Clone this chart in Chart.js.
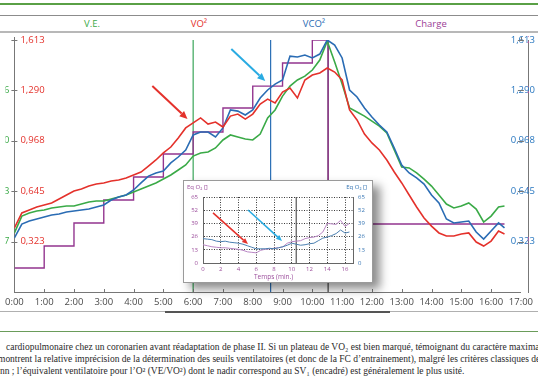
<!DOCTYPE html>
<html><head><meta charset="utf-8">
<script src="https://cdn.jsdelivr.net/npm/chart.js@4.4.1/dist/chart.umd.min.js"></script>
<style>
html,body{margin:0;padding:0;background:#fff;}
body{width:538px;height:384px;overflow:hidden;position:relative;font-family:"Open Sans",sans-serif;}
.rule{position:absolute;left:0;width:538px;}
.hdr{position:absolute;top:17px;line-height:14px;font-size:9.5px;transform:translateX(-50%);white-space:nowrap;}
#main{position:absolute;left:0;top:0;z-index:1;}
#insetBox{position:absolute;left:183px;top:180px;width:188px;height:101px;background:#fff;border:1px solid #9a9a9a;box-shadow:7px 6px 9px rgba(0,0,0,0.45);z-index:2;}
#inset{position:absolute;left:0;top:0;}
.itxt{position:absolute;font-size:6px;line-height:8px;white-space:nowrap;}
.cap{position:absolute;white-space:nowrap;font-family:"Liberation Serif",serif;color:#2a2a2a;line-height:12px;font-size:9px;}
</style></head><body>

<div class="rule" style="top:3px;height:1.5px;background:#5aa046;"></div>
<div class="rule" style="top:15px;height:1px;background:#8c8c8c;"></div>
<div class="rule" style="top:31px;height:1.5px;background:#b8b8b8;"></div>
<div class="hdr" style="left:92px;color:#3aaa47;">V.E.</div>
<div class="hdr" style="left:199px;color:#e4312b;">VO²</div>
<div class="hdr" style="left:314px;color:#2a6cb4;">VCO²</div>
<div class="hdr" style="left:431px;color:#9b3d96;">Charge</div>

<canvas id="main" width="538" height="384"></canvas>

<div id="insetBox">
  <canvas id="inset" width="188" height="101"></canvas>
  <div class="itxt" style="left:3px;top:2px;color:#9b4d9b;">Eq O₂ []</div>
  <div class="itxt" style="right:5px;top:2px;color:#3a78b5;">Eq O₂ []</div>
  <div class="itxt" style="left:70px;top:92px;color:#9b4d9b;font-size:6.5px;">Temps (min.)</div>
</div>

<div class="rule" style="top:311px;height:1px;background:#b0b0b0;"></div>
<div class="rule" style="top:311px;left:165px;width:225px;height:1.5px;background:#555;"></div>
<div class="rule" style="top:331px;height:1px;background:#6a9c5a;"></div>

<div class="cap" id="cap1" style="left:6px;top:341px;"><span id="cap1a">cardiopulmonaire chez un coronarien avant réadaptation de phase II. Si un plateau de VO₂ est bien marqué, témoignant du caractère </span>maximal</div>
<div class="cap" id="cap2" style="left:-2px;top:353px;"><span id="cap2a">montrent la relative imprécision de la détermination des seuils ventilatoires (et donc de la FC d’entrainement), malgré les critères classiques </span>de</div>
<div class="cap" id="cap3" style="left:0px;top:365px;"><span id="cap3a">nn ; l’équivalent ventilatoire pour l’O² (VE/VO²) dont le nadir correspond au SV₁ (encadré) est généralement le plus usité.</span></div>

<script>
// ---------- DATA (main chart) ----------
const times = [0,0.25,0.5,0.75,1,1.25,1.5,1.75,2,2.25,2.5,2.75,3,3.25,3.5,3.75,4,4.25,4.5,4.75,5,5.25,5.5,5.75,6,6.25,6.5,6.75,7,7.25,7.5,7.75,8,8.25,8.5,8.75,9,9.25,9.5,9.75,10,10.25,10.5,10.75,11,11.25,11.5,11.75,12,12.25,12.5,12.75,13,13.25,13.5,13.75,14,14.25,14.5,14.75,15,15.25,15.5,15.75,16,16.25,16.45];
const vo2 = [0.410,0.506,0.525,0.544,0.557,0.570,0.595,0.621,
  0.646,0.659,0.678,0.691,0.698,0.710,0.717,0.730,
  0.749,0.768,0.806,0.845,0.890,0.928,0.986,1.050,
  1.082,1.114,1.075,1.088,1.056,1.126,1.139,1.107,
  1.139,1.203,1.235,1.210,1.280,1.306,1.242,1.357,
  1.389,1.402,1.434,1.408,1.357,1.165,1.101,1.011,
  0.954,0.909,0.845,0.768,0.698,0.621,0.544,0.474,
  0.422,0.378,0.358,0.358,0.371,0.378,0.320,0.294,
  0.326,0.390,0.371];
const vco2 = [0.346,0.435,0.454,0.467,0.480,0.493,0.499,0.512,
  0.518,0.525,0.531,0.544,0.557,0.589,0.608,0.621,
  0.653,0.698,0.742,0.762,0.774,0.826,0.864,0.909,
  1.005,1.024,1.024,0.992,1.050,1.165,1.158,1.133,
  1.165,1.242,1.293,1.331,1.357,1.510,1.504,1.517,
  1.498,1.523,1.613,1.581,1.498,1.293,1.248,1.178,
  1.120,1.069,1.024,0.922,0.813,0.762,0.730,0.691,
  0.621,0.570,0.467,0.442,0.448,0.454,0.384,0.339,
  0.390,0.442,0.410];
const ve = [0.378,0.486,0.506,0.518,0.525,0.538,0.544,0.550,
  0.550,0.563,0.576,0.582,0.582,0.595,0.608,0.621,
  0.640,0.659,0.678,0.698,0.723,0.749,0.781,0.813,
  0.870,0.890,0.896,0.922,0.973,1.005,0.992,0.979,
  0.973,1.011,1.114,1.165,1.254,1.318,1.357,1.382,
  1.421,1.485,1.606,1.472,1.331,1.178,1.152,1.126,
  1.094,1.062,1.018,0.909,0.800,0.794,0.762,0.723,
  0.678,0.621,0.563,0.538,0.550,0.570,0.531,0.448,
  0.486,0.544,0.550];
const chargeTimes = [0,1,2,3,4,5,6,7,8,9,10,10.53,16.45];
const chargeValues = [0.154,0.294,0.442,0.589,0.736,0.883,1.024,1.178,1.318,1.466,1.613,0.435,0.435];
const thresholdVE = 6.0, thresholdVCO2 = 8.6, peakTime = 10.53;
const yTicks = [0.323,0.645,0.968,1.290,1.613];
const yTickLabels = ['0,323','0,645','0,968','1,290','1,613'];
const veTicks = [0.323,0.645,0.968,1.290];
const veTickLabels = ['25,7','51,3','77,0','102,6'];
const chargeTicks = [0.323,0.645,0.968,1.290,1.613];
const chargeTickLabels = ['50','100','150','200','250'];
const xMax = 17;

// ---------- DATA (inset) ----------
const insetTimes = [0,0.5,1,1.5,2,2.5,3,3.5,4,4.5,5,5.5,6,6.5,7,7.5,8,8.5,9,9.5,10,10.5,11,11.5,12,12.5,13,13.5,14,14.5,15,15.5,16,16.5];
const eqCO2 = [24,23.5,23,21.5,21,21.5,20.5,20,19.5,18.5,17,15.5,14,14,14,14.5,14,15,16,17.5,19.5,18.5,17.5,18,19,19.5,22,24.5,25.5,27,29,32.5,29.5,30.5];
const eqO2 = [18,17,16,15.5,15,15,14.5,14,13.5,12.5,11,10.5,10,12.5,13.5,14,14.5,15,16,19.5,21,21.5,22,24,25,25.5,27,30.5,39,38.5,38,42,36,39];
const insetYTicks = [0,13,26,39,52,65];
const insetMarker = 10.5;

// annotation arrows (data units)
const mainArrows = [
  {from:[4.63,1.318], to:[5.81,1.107], color:'#e4312b'},
  {from:[7.28,1.555], to:[8.42,1.350], color:'#29abe2'}
];
const insetArrows = [
  {from:[1.13,49.3], to:[5.07,18.7], color:'#e4312b'},
  {from:[5.07,52.2], to:[8.9,21.7], color:'#29abe2'}
];

// ---------- helpers ----------
Chart.defaults.font.family = "'Open Sans', sans-serif";
const pts = (xs, ys) => xs.map((x,i)=>({x, y:ys[i]}));
const vline = (t, top) => [{x:t,y:0},{x:t,y:top}];
const fixW = w => s => { s.width = w; };
const fixH = h => s => { s.height = h; };
const setTicks = arr => s => { s.ticks = arr.map(v=>({value:v})); };

function drawArrow(ctx, x1, y1, x2, y2, color, lw, hl, hw){
  const a = Math.atan2(y2-y1, x2-x1);
  const bx = x2 - hl*Math.cos(a), by = y2 - hl*Math.sin(a);
  ctx.save();
  ctx.strokeStyle = color; ctx.fillStyle = color; ctx.lineWidth = lw;
  ctx.beginPath(); ctx.moveTo(x1,y1); ctx.lineTo(bx,by); ctx.stroke();
  ctx.beginPath(); ctx.moveTo(x2,y2);
  ctx.lineTo(bx + hw/2*Math.sin(a), by - hw/2*Math.cos(a));
  ctx.lineTo(bx - hw/2*Math.sin(a), by + hw/2*Math.cos(a));
  ctx.closePath(); ctx.fill();
  ctx.restore();
}

const mainDecor = {
  id:'mainDecor',
  afterDraw(chart){
    const {ctx, chartArea:a, scales} = chart;
    const x = scales.x, y = scales.yL;
    ctx.save();
    ctx.strokeStyle = '#777'; ctx.lineWidth = 1;
    ctx.beginPath();
    for (let m=1; m<xMax; m++){ const px = Math.round(x.getPixelForValue(m))+0.5; ctx.moveTo(px, a.bottom-3); ctx.lineTo(px, a.bottom); }
    yTicks.forEach(v=>{ const py = Math.round(y.getPixelForValue(v))+0.5;
      ctx.moveTo(a.left-3, py); ctx.lineTo(a.left+3, py);
      ctx.moveTo(a.right-3, py); ctx.lineTo(a.right+3, py); });
    ctx.moveTo(Math.round(a.left)+0.5, a.top-3); ctx.lineTo(Math.round(a.left)+0.5, a.top);
    ctx.moveTo(Math.round(a.right)+0.5, a.top-3); ctx.lineTo(Math.round(a.right)+0.5, a.top);
    ctx.stroke();
    ctx.restore();
    mainArrows.forEach(ar=>drawArrow(ctx, x.getPixelForValue(ar.from[0]), y.getPixelForValue(ar.from[1]),
      x.getPixelForValue(ar.to[0]), y.getPixelForValue(ar.to[1]), ar.color, 2, 8, 7));
  }
};

const RED='#e4312b', BLUE='#2a6cb4', GREEN='#3aaa47', PURPLE='#93358f';
const lineDs = (label, data, color, w, extra) => Object.assign({label, data, borderColor:color, borderWidth:w, pointRadius:0, tension:0, fill:false, yAxisID:'yL'}, extra||{});

new Chart(document.getElementById('main'), {
  type:'line',
  data:{ datasets:[
    lineDs('VO2', pts(times, vo2), RED, 1.6),
    lineDs('VCO2', pts(times, vco2), BLUE, 1.6),
    lineDs('VE', pts(times, ve), GREEN, 1.6),
    lineDs('Charge', pts(chargeTimes, chargeValues), PURPLE, 1.4, {stepped:'before'}),
    lineDs('SV VE', vline(thresholdVE, 1.613), '#3aa55a', 1.2),
    lineDs('SV VCO2', vline(thresholdVCO2, 1.613), '#2a6fb5', 1.2),
    lineDs('max', vline(peakTime, 1.613), '#444', 1.2)
  ]},
  options:{
    responsive:false, animation:false, devicePixelRatio:1,
    layout:{padding:{left:0,right:0,top:40,bottom:72}},
    plugins:{legend:{display:false}, tooltip:{enabled:false}},
    scales:{
      x:{type:'linear', min:0, max:xMax, position:'bottom',
        afterFit:fixH(20),
        afterBuildTicks: s => { const t=[]; for(let m=0;m<=xMax;m++) t.push({value:m}); s.ticks=t; },
        ticks:{autoSkip:false, maxRotation:0, padding:5, color:'#4a4a4a', font:{size:9.5},
          callback:v=>v+':00'},
        grid:{display:false, drawTicks:false},
        border:{display:true, color:'#777', width:1}},
      yL:{type:'linear', position:'left', weight:0, min:0, max:1.613,
        afterFit:fixW(0), afterBuildTicks:setTicks(yTicks),
        ticks:{mirror:true, padding:6, color:RED, font:{size:9.5},
          callback:(v,i)=>yTickLabels[i]},
        grid:{display:false, drawTicks:false},
        border:{display:true, color:'#777', width:1}},
      yV:{type:'linear', position:'left', weight:1, min:0, max:1.613,
        afterFit:fixW(9), afterBuildTicks:setTicks(veTicks),
        ticks:{padding:5, color:GREEN, font:{size:9.5}, callback:(v,i)=>veTickLabels[i]},
        grid:{display:false, drawTicks:false}, border:{display:false}},
      yR:{type:'linear', position:'right', weight:1, min:0, max:1.613,
        afterFit:fixW(0), afterBuildTicks:setTicks(yTicks),
        ticks:{mirror:true, padding:6, color:'#2a78c0', font:{size:9.5},
          callback:(v,i)=>yTickLabels[i]},
        grid:{display:false, drawTicks:false},
        border:{display:true, color:'#777', width:1}},
      yC:{type:'linear', position:'right', weight:0, min:0, max:1.613,
        afterFit:fixW(8), afterBuildTicks:setTicks(chargeTicks),
        ticks:{padding:6, color:'#c0589e', font:{size:9.5}, callback:(v,i)=>chargeTickLabels[i]},
        grid:{display:false, drawTicks:false}, border:{display:false}}
    }
  },
  plugins:[mainDecor]
});

// ---------- inset ----------
const insetDecor = {
  id:'insetDecor',
  afterDatasetsDraw(chart){
    const {ctx, scales:{x, yL}} = chart;
    insetArrows.forEach(ar=>drawArrow(ctx, x.getPixelForValue(ar.from[0]), yL.getPixelForValue(ar.from[1]),
      x.getPixelForValue(ar.to[0]), yL.getPixelForValue(ar.to[1]), ar.color, 1.6, 6, 5));
  }
};
const IPURPLE='#9b4d9b', IBLUE='#3a78b5';
new Chart(document.getElementById('inset'), {
  type:'line',
  data:{ datasets:[
    {data:pts(insetTimes, eqCO2), borderColor:'#4a7fb0', borderWidth:1, pointRadius:0, tension:0, yAxisID:'yL'},
    {data:pts(insetTimes, eqO2), borderColor:'#b986c4', borderWidth:1, pointRadius:0, tension:0, yAxisID:'yL'},
    {data:vline(insetMarker, 65), borderColor:'#333', borderWidth:1, pointRadius:0, yAxisID:'yL'}
  ]},
  options:{
    responsive:false, animation:false, devicePixelRatio:1,
    layout:{padding:{left:0,right:0,top:16,bottom:0}},
    plugins:{legend:{display:false}, tooltip:{enabled:false}},
    scales:{
      x:{type:'linear', min:0, max:16.9, afterFit:fixH(19),
        afterBuildTicks: s => { const t=[]; for(let m=0;m<=16;m+=2) t.push({value:m}); s.ticks=t; },
        ticks:{autoSkip:false, maxRotation:0, padding:3, color:IPURPLE, font:{size:6}},
        grid:{color:'#3a3a3a', lineWidth:1, drawTicks:false},
        border:{display:true, color:'#666', width:1, dash:[1,1.5]}},
      yL:{type:'linear', position:'left', min:0, max:65, afterFit:fixW(19),
        afterBuildTicks:setTicks(insetYTicks),
        ticks:{padding:5, color:IPURPLE, font:{size:6}},
        grid:{color:'#3a3a3a', lineWidth:1, drawTicks:false},
        border:{display:true, color:'#666', width:1, dash:[1,1.5]}},
      yR:{type:'linear', position:'right', min:0, max:65, afterFit:fixW(19),
        afterBuildTicks:setTicks(insetYTicks),
        ticks:{padding:5, color:IBLUE, font:{size:6}},
        grid:{display:false, drawTicks:false},
        border:{display:true, color:'#666', width:1}}
    }
  },
  plugins:[insetDecor]
});

// caption: one font size, fitted to the widths of lines 1 and 2 measured in the reference
(function(){
  const c = document.createElement('canvas').getContext('2d');
  c.font = '10px "Liberation Serif"';
  const s1 = 10*502/c.measureText(document.getElementById('cap1a').textContent).width;
  const s2 = 10*535/c.measureText(document.getElementById('cap2a').textContent).width;
  const fs = ((s1+s2)/2).toFixed(2)+'px';
  document.querySelectorAll('.cap').forEach(e=>e.style.fontSize=fs);
})();
</script>
</body></html>
